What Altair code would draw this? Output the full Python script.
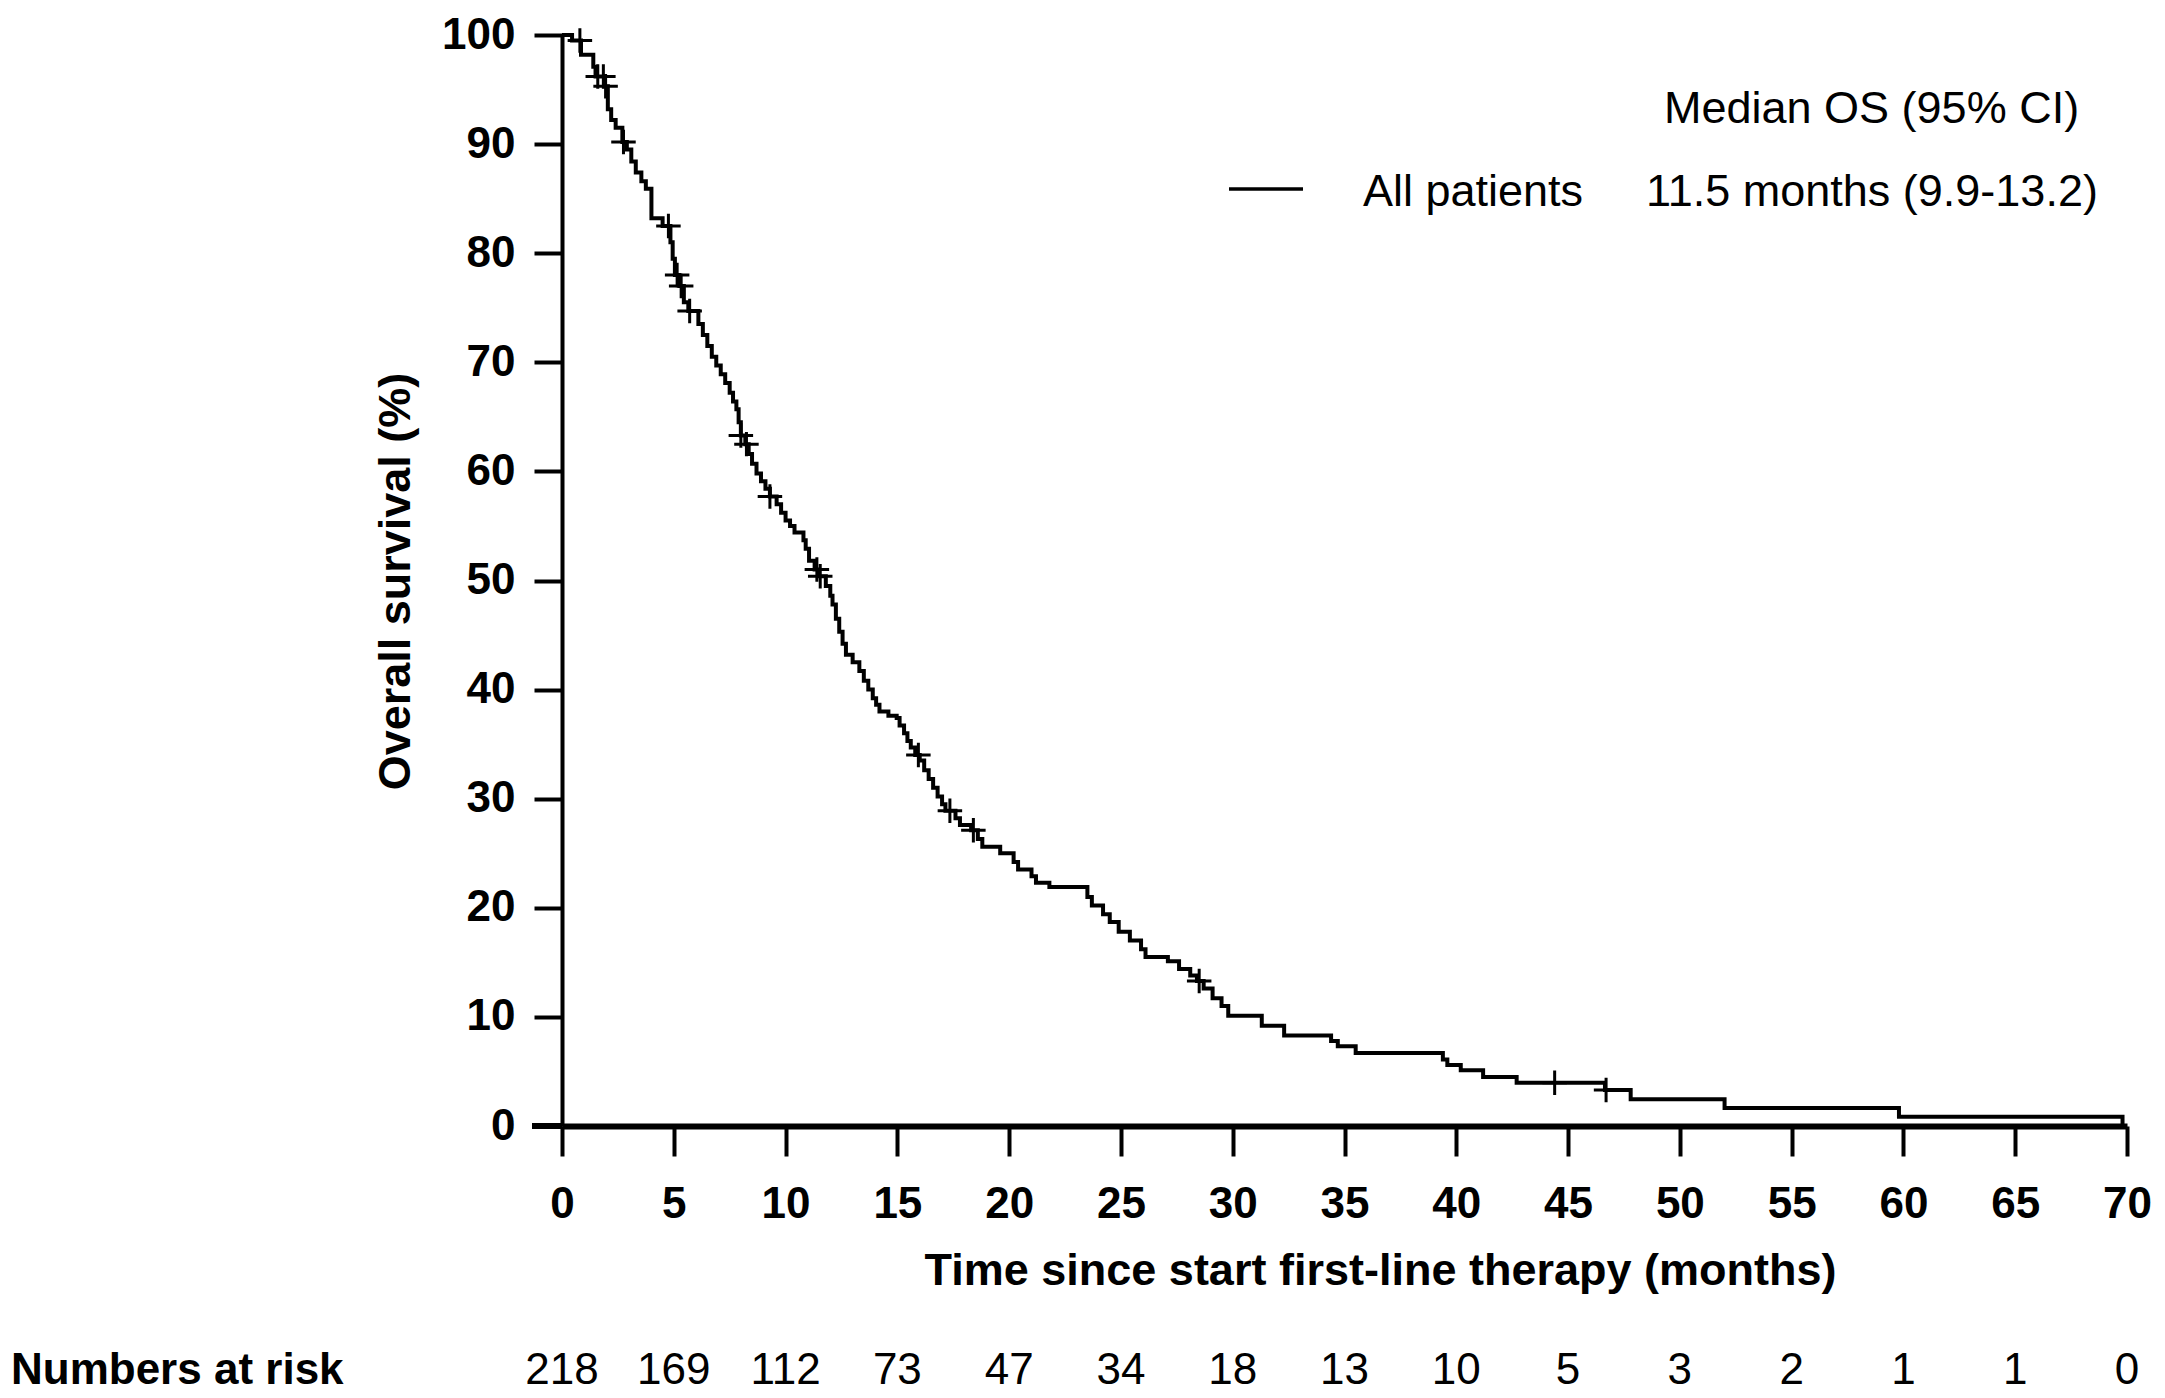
import altair as alt
import pandas as pd

# Kaplan-Meier step curve (time in months, overall survival in %)
km_t = [0, 0.45, 0.85, 1.4, 1.5, 1.9, 2.05, 2.2, 2.4, 2.7, 2.9, 3.1, 3.3, 3.55, 3.75, 4.0, 4.5,
        4.85, 4.95, 5.05, 5.25, 5.45, 5.65, 6.1, 6.3, 6.5, 6.7, 6.9, 7.1, 7.3, 7.5, 7.65, 7.8,
        7.9, 8.0, 8.2, 8.35, 8.5, 8.7, 8.9, 9.1, 9.3, 9.6, 9.8, 10.0, 10.2, 10.4, 10.8, 10.9,
        11.05, 11.3, 11.5, 11.8, 12.0, 12.1, 12.25, 12.4, 12.55, 12.7, 13.0, 13.3, 13.5, 13.7,
        13.9, 14.05, 14.2, 14.6, 14.97, 15.1, 15.3, 15.45, 15.6, 15.8, 16.0, 16.2, 16.4, 16.6,
        16.8, 17.0, 17.15, 17.6, 17.8, 18.3, 18.6, 18.8, 19.6, 20.2, 20.4, 21.0, 21.2, 21.8,
        23.5, 23.7, 24.2, 24.5, 24.9, 25.4, 25.9, 26.1, 27.1, 27.6, 28.1, 28.4, 28.7, 29.1,
        29.5, 29.8, 31.3, 32.3, 34.4, 34.7, 35.5, 39.4, 39.6, 40.2, 41.2, 42.7, 46.65, 47.8,
        52.0, 59.8, 69.8]
km_s = [100, 99.5, 98.2, 97.1, 96.2, 95.3, 93.2, 92.2, 91.5, 90.2, 89.5, 88.4, 87.4, 86.6, 85.9,
        83.2, 82.5, 81.0, 79.5, 78.0, 77.0, 75.5, 74.7, 73.5, 72.5, 71.5, 70.5, 69.7, 68.9, 68.1,
        67.2, 66.4, 65.7, 64.5, 63.3, 62.5, 61.6, 60.7, 59.8, 59.1, 58.4, 57.7, 57.0, 56.2, 55.5,
        55.0, 54.4, 53.7, 52.9, 51.8, 51.0, 50.4, 49.5, 48.6, 47.8, 46.5, 45.3, 44.2, 43.2, 42.5,
        41.7, 40.8, 40.0, 39.2, 38.6, 38.0, 37.6, 37.4, 36.7, 36.0, 35.3, 34.7, 34.0, 33.5, 32.6,
        31.8, 31.0, 30.2, 29.5, 28.9, 28.2, 27.6, 27.1, 26.3, 25.6, 25.0, 24.2, 23.5, 22.9, 22.3,
        21.9, 21.0, 20.2, 19.4, 18.7, 17.8, 17.0, 16.2, 15.5, 15.1, 14.4, 13.8, 13.3, 12.6, 11.7,
        11.0, 10.1, 9.2, 8.3, 7.8, 7.3, 6.7, 6.1, 5.6, 5.1, 4.5, 3.96, 3.3, 2.45, 1.66, 0.84, 0]

# Censoring marks
cens_t = [0.8, 1.6, 1.85, 1.95, 2.75, 4.76, 5.15, 5.33, 5.71, 8.0, 8.25, 9.3, 11.4, 11.55,
          15.94, 17.35, 18.4, 28.5, 44.4, 46.7]
cens_s = [99.5, 96.2, 96.2, 95.3, 90.2, 82.5, 78.0, 77.0, 74.7, 63.3, 62.5, 57.7, 51.0, 50.4,
          34.0, 28.9, 27.1, 13.3, 3.96, 3.3]

# Numbers at risk
risk_t = [0, 5, 10, 15, 20, 25, 30, 35, 40, 45, 50, 55, 60, 65, 70]
risk_n = [218, 169, 112, 73, 47, 34, 18, 13, 10, 5, 3, 2, 1, 1, 0]

x_ticks = list(range(0, 71, 5))
y_ticks = list(range(0, 101, 10))

FONT = "Liberation Sans"
W, H = 1565, 1091

km = pd.DataFrame({"t": km_t, "s": km_s})
cens = pd.DataFrame({"t": cens_t, "s": cens_s})
risk = pd.DataFrame({"t": risk_t, "n": [str(v) for v in risk_n]})

xscale = alt.Scale(domain=[0, 70], nice=False, zero=False)
yscale = alt.Scale(domain=[0, 100], nice=False)

xaxis = alt.Axis(values=x_ticks, title="Time since start first-line therapy (months)",
                 grid=False, labelFlush=False, labelOverlap=False,
                 labelFont=FONT, labelFontSize=44, labelFontWeight="bold", labelColor="black",
                 labelPadding=26, tickSize=30, tickWidth=4, tickColor="black",
                 domainColor="black", domainWidth=6,
                 titleFont=FONT, titleFontSize=45, titleFontWeight="bold", titleColor="black",
                 titleX=818, titleY=144, titleAlign="center", titleBaseline="middle")
yaxis = alt.Axis(values=y_ticks, title="Overall survival (%)",
                 grid=False, labelFlush=False, labelOverlap=False,
                 labelFont=FONT, labelFontSize=44, labelFontWeight="bold", labelColor="black",
                 labelPadding=19, tickSize=28, tickWidth=4, tickColor="black",
                 domainColor="black", domainWidth=4,
                 titleFont=FONT, titleFontSize=45, titleFontWeight="bold", titleColor="black",
                 titleX=-167, titleY=546, titleAngle=270, titleAlign="center",
                 titleBaseline="middle")

line = alt.Chart(km).mark_line(interpolate="step-after", color="black", strokeWidth=4).encode(
    x=alt.X("t:Q", scale=xscale, axis=xaxis),
    y=alt.Y("s:Q", scale=yscale, axis=yaxis),
)

censor = alt.Chart(cens).mark_point(shape="M-1,0L1,0M0,-1L0,1", size=600, filled=False,
                                    color="black", strokeWidth=3, opacity=1).encode(
    x=alt.X("t:Q", scale=xscale),
    y=alt.Y("s:Q", scale=yscale),
)

axis_ext = alt.Chart(pd.DataFrame({"a": [0]})).mark_rule(color="black", strokeWidth=6).encode(
    x=alt.value(-30), x2=alt.value(0), y=alt.value(H))

risk_text = alt.Chart(risk).mark_text(font=FONT, fontSize=44, color="black",
                                      baseline="middle", align="center").encode(
    x=alt.X("t:Q", scale=xscale),
    y=alt.value(1336),
    text="n:N",
)

risk_label = alt.Chart(pd.DataFrame({"l": ["Numbers at risk"]})).mark_text(
    font=FONT, fontSize=44, fontWeight="bold", color="black", baseline="middle", align="left"
).encode(x=alt.value(-551), y=alt.value(1336), text="l:N")

leg_head = alt.Chart(pd.DataFrame({"l": ["Median OS (95% CI)"]})).mark_text(
    font=FONT, fontSize=45, color="black", baseline="middle", align="left"
).encode(x=alt.value(1102), y=alt.value(74), text="l:N")

leg_name = alt.Chart(pd.DataFrame({"l": ["All patients"]})).mark_text(
    font=FONT, fontSize=45, color="black", baseline="middle", align="left"
).encode(x=alt.value(801), y=alt.value(157), text="l:N")

leg_val = alt.Chart(pd.DataFrame({"l": ["11.5 months (9.9-13.2)"]})).mark_text(
    font=FONT, fontSize=45, color="black", baseline="middle", align="left"
).encode(x=alt.value(1084), y=alt.value(157), text="l:N")

leg_line = alt.Chart(pd.DataFrame({"a": [0]})).mark_rule(color="black", strokeWidth=3.5).encode(
    x=alt.value(667), x2=alt.value(741), y=alt.value(154))

chart = alt.layer(line, censor, axis_ext, risk_text, risk_label, leg_head, leg_name, leg_val,
                  leg_line).properties(
    width=W, height=H,
    autosize=alt.AutoSizeParams(type="none"),
    padding={"left": 554, "top": 27, "right": 30, "bottom": 270},
    background="white",
).configure_view(stroke=None)

chart.save("out.html", embed_options={"renderer": "svg", "actions": False})
